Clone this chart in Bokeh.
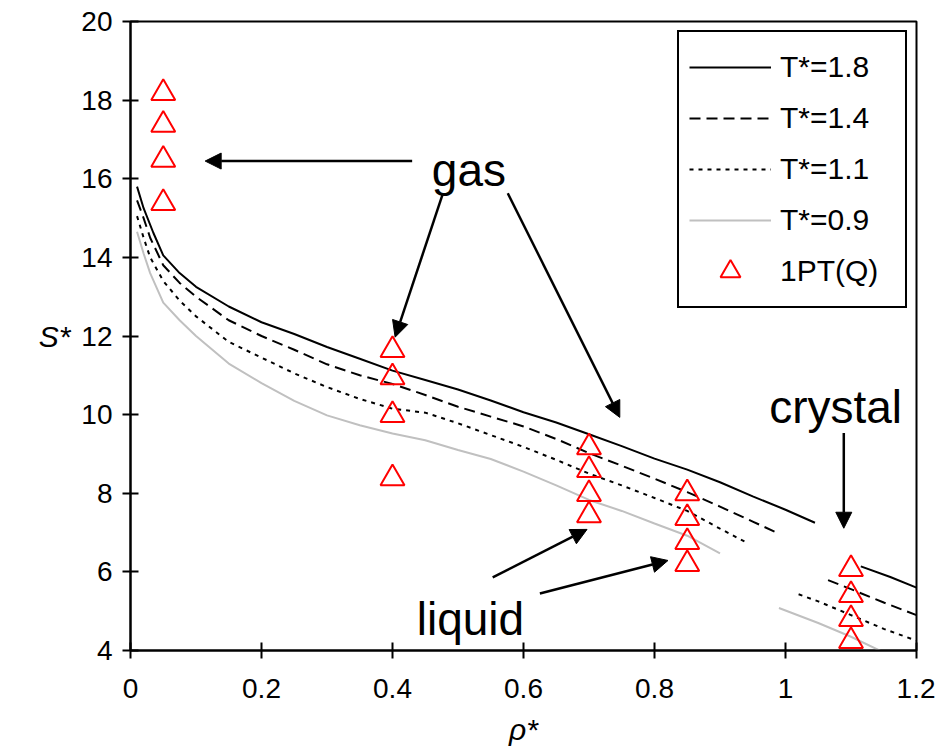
import math
from bokeh.plotting import figure
from bokeh.models import Range1d, Legend, LegendItem, Arrow, NormalHead, Label, FixedTicker
from bokeh.embed import file_html
from bokeh.resources import INLINE

nan = float("nan")

# T*=1.8 (two branches separated by NaN)
x_18 = [0.01, 0.02, 0.035, 0.05, 0.075, 0.1, 0.15, 0.2, 0.25, 0.3, 0.35, 0.4, 0.45, 0.5, 0.55,
        0.6, 0.65, 0.7, 0.75, 0.8, 0.85, 0.9, 0.95, 1.0, 1.045, nan, 1.115, 1.16, 1.2]
s_18 = [15.8, 15.25, 14.62, 14.05, 13.6, 13.25, 12.75, 12.35, 12.05, 11.72, 11.42, 11.12, 10.88,
        10.64, 10.36, 10.06, 9.8, 9.5, 9.2, 8.88, 8.6, 8.28, 7.92, 7.58, 7.25, nan, 6.14, 5.87, 5.6]

# T*=1.4
x_14 = [0.01, 0.02, 0.03, 0.05, 0.075, 0.1, 0.15, 0.2, 0.25, 0.3, 0.35, 0.4, 0.45, 0.5, 0.55,
        0.6, 0.65, 0.7, 0.75, 0.8, 0.85, 0.9, 0.95, 0.985, nan, 1.065, 1.1, 1.15, 1.2]
s_14 = [15.45, 15.0, 14.5, 13.8, 13.35, 13.0, 12.4, 12.0, 11.65, 11.28, 11.0, 10.78, 10.5, 10.2,
        9.95, 9.7, 9.38, 9.02, 8.7, 8.37, 8.03, 7.66, 7.28, 7.01, nan, 5.79, 5.56, 5.22, 4.9]

# T*=1.1
x_11 = [0.01, 0.02, 0.03, 0.05, 0.075, 0.1, 0.15, 0.2, 0.25, 0.3, 0.35, 0.4, 0.45, 0.5, 0.55,
        0.6, 0.65, 0.7, 0.75, 0.8, 0.85, 0.9, 0.94, nan, 1.02, 1.05, 1.1, 1.15, 1.2]
s_11 = [15.05, 14.5, 14.0, 13.4, 12.9, 12.5, 11.85, 11.45, 11.05, 10.7, 10.4, 10.15, 10.05, 9.78,
        9.48, 9.18, 8.85, 8.5, 8.2, 7.88, 7.55, 7.1, 6.75, nan, 5.43, 5.25, 4.9, 4.55, 4.25]

# T*=0.9
x_09 = [0.01, 0.02, 0.03, 0.05, 0.075, 0.1, 0.15, 0.2, 0.25, 0.3, 0.35, 0.4, 0.45, 0.5, 0.55,
        0.6, 0.65, 0.7, 0.75, 0.8, 0.85, 0.9, nan, 0.99, 1.05, 1.1, 1.15, 1.18]
s_09 = [14.65, 14.1, 13.6, 12.85, 12.4, 12.0, 11.3, 10.8, 10.35, 9.98, 9.73, 9.52, 9.35, 9.1,
        8.87, 8.55, 8.2, 7.83, 7.55, 7.23, 6.92, 6.47, nan, 5.08, 4.7, 4.35, 3.95, 3.75]

# 1PT(Q) points
x_1pt = [0.05, 0.05, 0.05, 0.05, 0.4, 0.4, 0.4, 0.4, 0.7, 0.7, 0.7, 0.7,
         0.85, 0.85, 0.85, 0.85, 1.1, 1.1, 1.1, 1.1]
s_1pt = [18.18, 17.37, 16.48, 15.38, 11.64, 10.95, 9.99, 8.38, 9.17, 8.59, 7.98, 7.44,
         8.0, 7.37, 6.76, 6.2, 6.07, 5.41, 4.8, 4.24]

x_ticks = [0, 0.2, 0.4, 0.6, 0.8, 1.0, 1.2]
x_tick_labels = ["0", "0.2", "0.4", "0.6", "0.8", "1", "1.2"]
y_ticks = [4, 6, 8, 10, 12, 14, 16, 18, 20]

series_labels = ["T*=1.8", "T*=1.4", "T*=1.1", "T*=0.9", "1PT(Q)"]

FONT = "Liberation Sans"

p = figure(width=935, height=749, output_backend="svg", toolbar_location=None,
           x_range=Range1d(0, 1.2), y_range=Range1d(4, 20),
           min_border_left=130, min_border_right=19, min_border_top=21, min_border_bottom=99)
p.outline_line_color = "black"
p.outline_line_width = 2
p.outline_line_alpha = 1
p.xgrid.visible = False
p.ygrid.visible = False
p.background_fill_color = "white"
p.border_fill_color = "white"

for ax in (p.xaxis[0], p.yaxis[0]):
    ax.axis_line_width = 2
    ax.axis_line_color = "black"
    ax.major_tick_line_width = 2
    ax.major_tick_line_color = "black"
    ax.major_tick_in = 8
    ax.major_tick_out = 8
    ax.minor_tick_line_color = None
    ax.major_label_text_font = FONT
    ax.major_label_text_font_size = "28px"
    ax.major_label_text_color = "black"
    ax.axis_label_text_font = FONT
    ax.axis_label_text_font_size = "30px"
    ax.axis_label_text_font_style = "italic"
    ax.axis_label_text_color = "black"

p.xaxis.major_label_standoff = 20
p.yaxis.major_label_standoff = 10
p.xaxis.ticker = FixedTicker(ticks=x_ticks)
p.xaxis.major_label_overrides = {t: l for t, l in zip(x_ticks, x_tick_labels)}
p.yaxis.ticker = FixedTicker(ticks=y_ticks)
p.xaxis.axis_label = "ρ*"
p.xaxis.axis_label_standoff = 12
p.yaxis.axis_label = "S*"
p.yaxis.axis_label_orientation = "horizontal"
p.yaxis.axis_label_standoff = 8

r18 = p.line(x_18, s_18, line_color="black", line_width=2)
r14 = p.line(x_14, s_14, line_color="black", line_width=2, line_dash="11 6")
r11 = p.line(x_11, s_11, line_color="black", line_width=2, line_dash="4 5")
r09 = p.line(x_09, s_09, line_color="#c0c0c0", line_width=2)
rpt = p.scatter(x_1pt, s_1pt, marker="triangle", size=24, line_color="red",
                line_width=2, fill_color=None)

legend = Legend(items=[LegendItem(label=l, renderers=[r]) for l, r in
                       zip(series_labels, [r18, r14, r11, r09, rpt])],
                location="top_right")
legend.label_text_font = FONT
legend.label_text_font_size = "30px"
legend.label_text_color = "black"
legend.border_line_color = "black"
legend.border_line_width = 2
legend.border_line_alpha = 1
legend.background_fill_alpha = 1
legend.glyph_width = 82
legend.glyph_height = 50
legend.label_height = 50
legend.label_width = 115
legend.label_standoff = 9
legend.spacing = 1
legend.padding = 10
legend.margin = 9
p.add_layout(legend)

# Arrows (tails and tips in data units)
arrows = [
    (0.430, 16.45, 0.114, 16.45),
    (0.477, 15.63, 0.404, 11.97),
    (0.576, 15.63, 0.747, 9.93),
    (0.553, 5.86, 0.697, 7.08),
    (0.625, 5.45, 0.8206, 6.29),
    (1.089, 9.53, 1.089, 7.11),
]
for xs, ys, xe, ye in arrows:
    p.add_layout(Arrow(x_start=xs, y_start=ys, x_end=xe, y_end=ye, line_width=2.5,
                       line_color="black",
                       end=NormalHead(size=16, fill_color="black", line_color="black", line_width=1)))

for txt, tx, ty in [("gas", 0.460, 16.22), ("crystal", 0.975, 10.19), ("liquid", 0.437, 4.81)]:
    p.add_layout(Label(x=tx, y=ty, text=txt, text_font=FONT, text_font_size="46px",
                       text_color="black", text_baseline="alphabetic", text_align="left"))

open("out.html", "w").write(file_html(p, INLINE))
